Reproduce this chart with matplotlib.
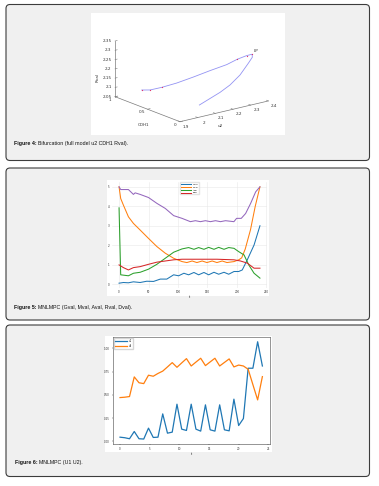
import matplotlib
matplotlib.use('Agg')
import matplotlib.pyplot as plt
from matplotlib.patches import FancyBboxPatch, Rectangle
from mpl_toolkits.mplot3d import proj3d

# ---------------- 图4：分岔曲线 (u2, CDH1, Rval) ----------------
bif_u2 = [2.014, 2.032, 2.061, 2.109, 2.167, 2.224, 2.282, 2.313, 2.336, 2.352,
          2.346, 2.316, 2.262, 2.198, 2.138, 2.017]
bif_cdh1 = [0.90, 0.82, 0.72, 0.62, 0.52, 0.42, 0.32, 0.24, 0.16, 0.12,
            0.10, 0.08, 0.06, 0.04, 0.03, 0.02]
bif_rval = [2.074, 2.081, 2.102, 2.128, 2.161, 2.196, 2.229, 2.262, 2.287, 2.296,
            2.284, 2.261, 2.213, 2.176, 2.151, 2.111]
bif_dots = [0, 1, 2, 7, 8, 9]
lp_idx = 9
rval_ticks = [2.05, 2.1, 2.15, 2.2, 2.25, 2.3, 2.35]
rval_labels = ['2.05', '2.1', '2.15', '2.2', '2.25', '2.3', '2.35']
cdh1_ticks = [1, 0.5, 0]
cdh1_labels = ['1', '0.5', '0']
u2_ticks = [1.9, 2.0, 2.1, 2.2, 2.3, 2.4]
u2_labels = ['1.9', '2', '2.1', '2.2', '2.3', '2.4']

# ---------------- 图5：MNLMPC 状态变量 ----------------
g_t = [0, 2.8, 15.9, 24.4, 35.8, 50, 64.2, 78.4, 92.6, 106.8, 118, 127, 135, 144,
       152, 161, 169, 178, 186, 195, 203, 212, 220, 229, 239]
g_v = [3.92, 0.48, 0.43, 0.56, 0.61, 0.77, 1.02, 1.33, 1.64, 1.81, 1.88, 1.79, 1.88,
       1.79, 1.89, 1.79, 1.89, 1.79, 1.88, 1.84, 1.67, 1.50, 0.99, 0.56, 0.31]
m_t = [0, 2.8, 7.4, 15.9, 24.4, 35.8, 50, 64.2, 78.4, 92.6, 106.8, 115, 124, 132,
       141, 149, 158, 166, 175, 183, 195, 203, 208, 214, 223, 231, 239]
m_v = [5.00, 4.40, 4.06, 3.46, 3.12, 2.78, 2.35, 1.93, 1.59, 1.33, 1.16, 1.11, 1.19,
       1.11, 1.19, 1.11, 1.19, 1.11, 1.19, 1.11, 1.16, 1.25, 1.35, 1.80, 2.80, 4.00, 5.00]
a_t = [0, 7.4, 15.9, 24.4, 35.8, 47, 58.5, 70, 81, 92.6, 101, 110, 118, 127, 135,
       144, 152, 161, 169, 178, 186, 195, 203, 209, 217.5, 229, 239]
a_v = [0.05, 0.085, 0.07, 0.12, 0.085, 0.15, 0.14, 0.26, 0.26, 0.48, 0.43, 0.56, 0.48,
       0.60, 0.48, 0.60, 0.48, 0.61, 0.51, 0.61, 0.51, 0.65, 0.65, 0.73, 1.25, 2.01, 3.00]
r_t = [0, 7.4, 15.9, 24.4, 35.8, 50, 64.2, 78.4, 92.6, 106.8, 138, 166, 195, 206,
       217.5, 229, 239]
r_v = [0.99, 0.85, 0.73, 0.85, 0.90, 1.02, 1.13, 1.19, 1.25, 1.28, 1.28, 1.28, 1.25,
       1.19, 1.08, 0.82, 0.82]
d_t = [0, 2.8, 15.9, 24.4, 27.3, 35.8, 50, 64.2, 78.4, 92.6, 106.8, 121, 129.5, 138,
       146.5, 155, 163.6, 172, 180.6, 194.8, 199.4, 207.3, 214.7, 223.2, 231.7, 239]
d_v = [5.00, 4.86, 4.86, 4.61, 4.69, 4.61, 4.45, 4.15, 3.89, 3.52, 3.38, 3.21, 3.26,
       3.21, 3.26, 3.21, 3.26, 3.21, 3.26, 3.21, 3.38, 3.38, 3.63, 4.15, 4.74, 5.00]

# ---------------- 图6：控制变量 U1 U2 ----------------
u_t = [0, 0.8, 1.6, 2.4, 3.2, 4.0, 4.8, 5.6, 6.4, 7.2, 8.0, 8.8, 9.6, 10.4, 11.2,
       12.0, 12.8, 13.6, 14.4, 15.2, 16.0, 16.8, 17.6, 18.4, 19.2, 20.0, 20.8, 21.6,
       22.4, 23.2, 24.0]
u1 = [0.046, 0.040, 0.029, 0.107, 0.029, 0.026, 0.143, 0.043, 0.046, 0.296, 0.089,
      0.100, 0.400, 0.132, 0.118, 0.400, 0.132, 0.111, 0.393, 0.125, 0.111, 0.393,
      0.125, 0.114, 0.454, 0.171, 0.246, 0.786, 0.786, 1.070, 0.810]
u2 = [0.471, 0.475, 0.482, 0.693, 0.630, 0.621, 0.711, 0.700, 0.730, 0.755, 0.800,
      0.846, 0.796, 0.843, 0.889, 0.810, 0.852, 0.893, 0.814, 0.854, 0.893, 0.810,
      0.848, 0.886, 0.800, 0.820, 0.810, 0.775, 0.610, 0.446, 0.696]

W, H = 379, 486
fig = plt.figure(figsize=(W / 100, H / 100), dpi=100)
fig.patch.set_facecolor('white')

# 背景：三个圆角框 + 白色图片区域 + 图注
bg = fig.add_axes([0, 0, 1, 1])
bg.set_xlim(0, W)
bg.set_ylim(H, 0)
bg.axis('off')
for y0, y1 in [(4.5, 160.5), (168, 320), (325, 476.5)]:
    bg.add_patch(FancyBboxPatch((6, y0), 363.5, y1 - y0,
                                boxstyle='round,pad=0,rounding_size=4',
                                fc='#f0f0f0', ec='#3c3c3c', lw=0.8))
for x0, y0, x1, y1 in [(91, 13, 285, 135), (107, 180, 269, 296), (105, 336, 272, 452)]:
    bg.add_patch(Rectangle((x0, y0), x1 - x0, y1 - y0, fc='white', ec='none'))

renderer = fig.canvas.get_renderer()


def caption(x, y, head, rest):
    t = bg.text(x, y, head, fontsize=3.8, fontweight='bold', family='Liberation Sans',
                va='center', ha='left', color='#111111')
    bb = t.get_window_extent(renderer)
    x_end = bg.transData.inverted().transform((bb.x1, bb.y0))[0]
    bg.text(x_end + 1.0, y, rest, fontsize=3.8, family='Liberation Sans',
            va='center', ha='left', color='#111111')


caption(14, 143, 'Figure 4:', 'Bifurcation (full model u2 CDH1 Rval).')
caption(14, 307, 'Figure 5:', 'MNLMPC (Gval, Mval, Aval, Rval, Dval).')
caption(15, 462, 'Figure 6:', 'MNLMPC (U1 U2).')

# ---------------- 图4 三维 ----------------
ax1 = fig.add_axes([0.2, 0.6, 0.4, 0.3], projection='3d', proj_type='ortho')
ax1.set_xlim(1.9, 2.4)
ax1.set_ylim(0, 1)
ax1.set_zlim(2.05, 2.35)
ax1.set_box_aspect((336, 316, 175))
ax1.view_init(elev=17.5, azim=-128)
ax1.set_axis_off()
ax1.patch.set_alpha(0)

ax_col = '#7a7a7a'
# 坐标轴线和刻度线
ax1.plot([1.9, 1.9], [1, 1], [2.05, 2.35], color=ax_col, lw=0.5)
ax1.plot([1.9, 1.9], [1, 0], [2.05, 2.05], color=ax_col, lw=0.5)
ax1.plot([1.9, 2.4], [0, 0], [2.05, 2.05], color=ax_col, lw=0.5)
for v in rval_ticks:
    ax1.plot([1.9, 1.912], [1, 1], [v, v], color=ax_col, lw=0.4)
for v in cdh1_ticks:
    ax1.plot([1.9, 1.915], [v, v], [2.05, 2.05], color=ax_col, lw=0.4)
for v in u2_ticks:
    ax1.plot([v, v], [0, 0.03], [2.05, 2.05], color=ax_col, lw=0.4)

ax1.plot(bif_u2, bif_cdh1, bif_rval, color='#9393f3', lw=0.6)
ax1.plot([bif_u2[i] for i in bif_dots], [bif_cdh1[i] for i in bif_dots],
         [bif_rval[i] for i in bif_dots], ls='none', marker='o', ms=0.9,
         color='#e0306a', mec='none')

# 按目标像素位置校准三维坐标轴位置
fig.canvas.draw()


def to_px(x, y, z):
    x2, y2, _ = proj3d.proj_transform(x, y, z, ax1.get_proj())
    return ax1.transData.transform((x2, y2))


pos = ax1.get_position()
cx, cy = (pos.x0 + pos.x1) / 2 * W, (pos.y0 + pos.y1) / 2 * H
L = pos.width * W
pa = to_px(1.9, 1, 2.05)
pb = to_px(2.4, 0, 2.05)
po = to_px(1.9, 0, 2.05)
k = 153.3 / (pb[0] - pa[0])
ncx = 180 - k * (po[0] - cx)
ncy = (H - 121.7) - k * (po[1] - cy)
nL = k * L
ax1.set_position([(ncx - nL / 2) / W, (ncy - nL / 2) / H, nL / W, nL / H])
fig.canvas.draw()


def label3d(x, y, z, s, **kw):
    # 三维点投影到像素位置，文字放在背景坐标系中
    p = to_px(x, y, z)
    bg.text(p[0], H - p[1], s, fontsize=3, color='#333333', **kw)


for v, s in zip(rval_ticks, rval_labels):
    label3d(1.888, 1.02, v, s, ha='right', va='center')
for v, s in zip(cdh1_ticks, cdh1_labels):
    label3d(1.87, v, 2.04, s, ha='center', va='center')
for v, s in zip(u2_ticks, u2_labels):
    label3d(v, -0.09, 2.035, s, ha='center', va='center')
label3d(1.84, 1.1, 2.156, 'Rval', rotation=90, ha='center', va='center')
label3d(1.84, 0.4, 1.992, 'CDH1', ha='center', va='center')
label3d(2.09, -0.1, 1.998, 'u2', ha='center', va='center')
label3d(bif_u2[lp_idx] + 0.008, bif_cdh1[lp_idx], bif_rval[lp_idx] + 0.004, 'LP',
        ha='left', va='bottom')

# ---------------- 图5 ----------------
ax2 = fig.add_axes([112 / W, 1 - 288 / H, 155 / W, 106 / H])
ax2.set_facecolor('white')
ax2.plot(a_t, a_v, color='#1f77b4', lw=0.75, label='Gval')
ax2.plot(m_t, m_v, color='#ff7f0e', lw=0.75, label='Mval')
ax2.plot(g_t, g_v, color='#2ca02c', lw=0.75, label='Aval')
ax2.plot(r_t, r_v, color='#d62728', lw=0.75, label='Rval')
ax2.plot(d_t, d_v, color='#9467bd', lw=0.75)
ax2.set_xticks([0, 50, 100, 150, 200, 250])
ax2.set_yticks([0, 1, 2, 3, 4, 5])
ax2.grid(color='#e8e8e8', lw=0.4)
for s in ax2.spines.values():
    s.set_visible(False)
ax2.tick_params(length=0, labelsize=2, pad=1.5, colors='#333333')
ax2.set_xlabel('t', fontsize=2.2, labelpad=0.5)
ax2.legend(loc='upper center', fontsize=1.7, handlelength=4.5, borderpad=0.35,
           labelspacing=0.5, handletextpad=0.6, frameon=True, edgecolor='#e0e0e0',
           framealpha=0.9, borderaxespad=0.2)

# ---------------- 图6 ----------------
ax3 = fig.add_axes([112.9 / W, 1 - 443.9 / H, 156.6 / W, 107 / H])
ax3.plot(u_t, u1, color='#1f77b4', lw=0.9, label='u1')
ax3.plot(u_t, u2, color='#ff7f0e', lw=0.9, label='u2')
ax3.set_xticks([0, 5, 10, 15, 20, 25])
ax3.set_yticks([0, 0.25, 0.5, 0.75, 1.0])
ax3.set_yticklabels(['0.00', '0.25', '0.50', '0.75', '1.00'])
for s in ax3.spines.values():
    s.set_linewidth(0.4)
    s.set_color('#444444')
ax3.tick_params(length=1, width=0.3, labelsize=2, pad=1.5, colors='#333333')
ax3.set_xlabel('t', fontsize=2.2, labelpad=0.5)
ax3.legend(loc='upper left', fontsize=1.8, handlelength=5, borderpad=0.4,
           labelspacing=0.45, handletextpad=0.6, frameon=True, edgecolor='#cccccc',
           borderaxespad=0.4)

plt.savefig('out.png', dpi=100)
plt.close()
